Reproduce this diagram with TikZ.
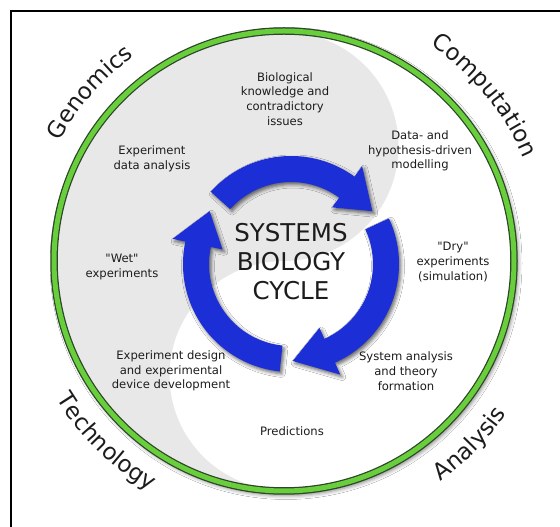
\documentclass[tikz,border=0pt]{standalone}
\usepackage{fontspec}
\setmainfont{DejaVu Sans}
\usetikzlibrary{decorations.text,shadows.blur}

\definecolor{cycleblue}{RGB}{28,46,214}
\definecolor{ringgreen}{RGB}{104,206,60}
\definecolor{ringedge}{RGB}{45,70,40}
\definecolor{yinfill}{RGB}{232,232,232}
\definecolor{labeltext}{RGB}{28,28,28}

\newcommand\labelfont{\fontsize{11.6}{14.8}\selectfont}
\newcommand\titlefont{\fontsize{24.5}{29}\selectfont}
\newcommand\fieldfont{\fontsize{23}{23}\selectfont}
% straight double quote, set as a glyph so no TeX mapping curls it
\newcommand\dq{\XeTeXglyph\XeTeXcharglyph"22\relax}

\begin{document}
\begin{tikzpicture}[x=1pt,y=1pt,
  stagelabel/.style={align=center, font=\labelfont, text=labeltext, inner sep=0pt},
  titlelabel/.style={align=center, font=\titlefont, text=labeltext, inner sep=0pt},
  cyclearrow/.style={fill=cycleblue,
    blur shadow={shadow xshift=2pt, shadow yshift=-2.5pt, shadow blur radius=3.5pt, shadow opacity=60}},
  fieldtext/.style={decorate, decoration={text along path, text align=center,
    text={|\fieldfont\color{labeltext}|#1}}}
]
\useasboundingbox (0,0) rectangle (560,527);
\fill[white] (0,0) rectangle (560,527);

% frame lines (left and top)
\draw[line width=2pt] (11,0) -- (11,516) -- (560,516);

\coordinate (C) at (284,266);
\coordinate (O) at (291,263);

% outer disc with soft shadow
\fill[white, blur shadow={shadow xshift=2pt, shadow yshift=-2.5pt, shadow blur radius=4pt, shadow opacity=50}]
  (C) circle[radius=232];

% yin-yang shaded half
\begin{scope}[shift={(C)}]
  \fill[yinfill] (0,229) arc[start angle=90, end angle=270, radius=229]
    arc[start angle=-90, end angle=-270, radius=114.5]
    arc[start angle=-90, end angle=90, radius=114.5] -- cycle;
\end{scope}

% green ring
\draw[ringedge, line width=7.5pt] (C) circle[radius=230];
\draw[ringgreen, line width=5pt] (C) circle[radius=230];

% three cycle arrows: tail angle, base angle, tip angle
\begin{scope}[shift={(O)}]
  \foreach \t/\b/\p in {138/54/33, 25/-66/-89, 264/168/147}{
    \fill[cyclearrow] (\t:108) arc[start angle=\t, end angle=\b, radius=108]
      -- (\b:121) -- (\p:97) -- (\b:70) -- (\b:82)
      arc[start angle=\b, end angle=\t, radius=82] -- cycle;
  }
\end{scope}

% centre title
\node[titlelabel] (title) at (291,265) {SYSTEMS\\BIOLOGY\\CYCLE};

% stage labels
\node[stagelabel] (bio) at (285,428) {Biological\\knowledge and\\contradictory\\issues};
\node[stagelabel] (expdata) at (152,368) {Experiment\\data analysis};
\node[stagelabel] (model) at (420,376) {Data- and\\hypothesis-driven\\modelling};
\node[stagelabel] (wet) at (122,260) {\dq Wet\dq\\experiments};
\node[stagelabel] (dry) at (453,265) {\dq Dry\dq\\experiments\\(simulation)};
\node[stagelabel] (design) at (171,156) {Experiment design\\and experimental\\device development};
\node[stagelabel] (theory) at (406,156) {System analysis\\and theory\\formation};
\node[stagelabel] (pred) at (292,96) {Predictions};

% field names around the ring
\begin{scope}[shift={(C)}]
  \path[fieldtext=Genomics] (170:254) arc[start angle=170, end angle=108, radius=254];
  \path[fieldtext=Computation] (75:261) arc[start angle=75, end angle=4, radius=261];
  \path[fieldtext=Technology] (190:266) arc[start angle=190, end angle=261, radius=266];
  \path[fieldtext=Analysis] (-80:270) arc[start angle=-80, end angle=-9, radius=270];
\end{scope}
\end{tikzpicture}
\end{document}
